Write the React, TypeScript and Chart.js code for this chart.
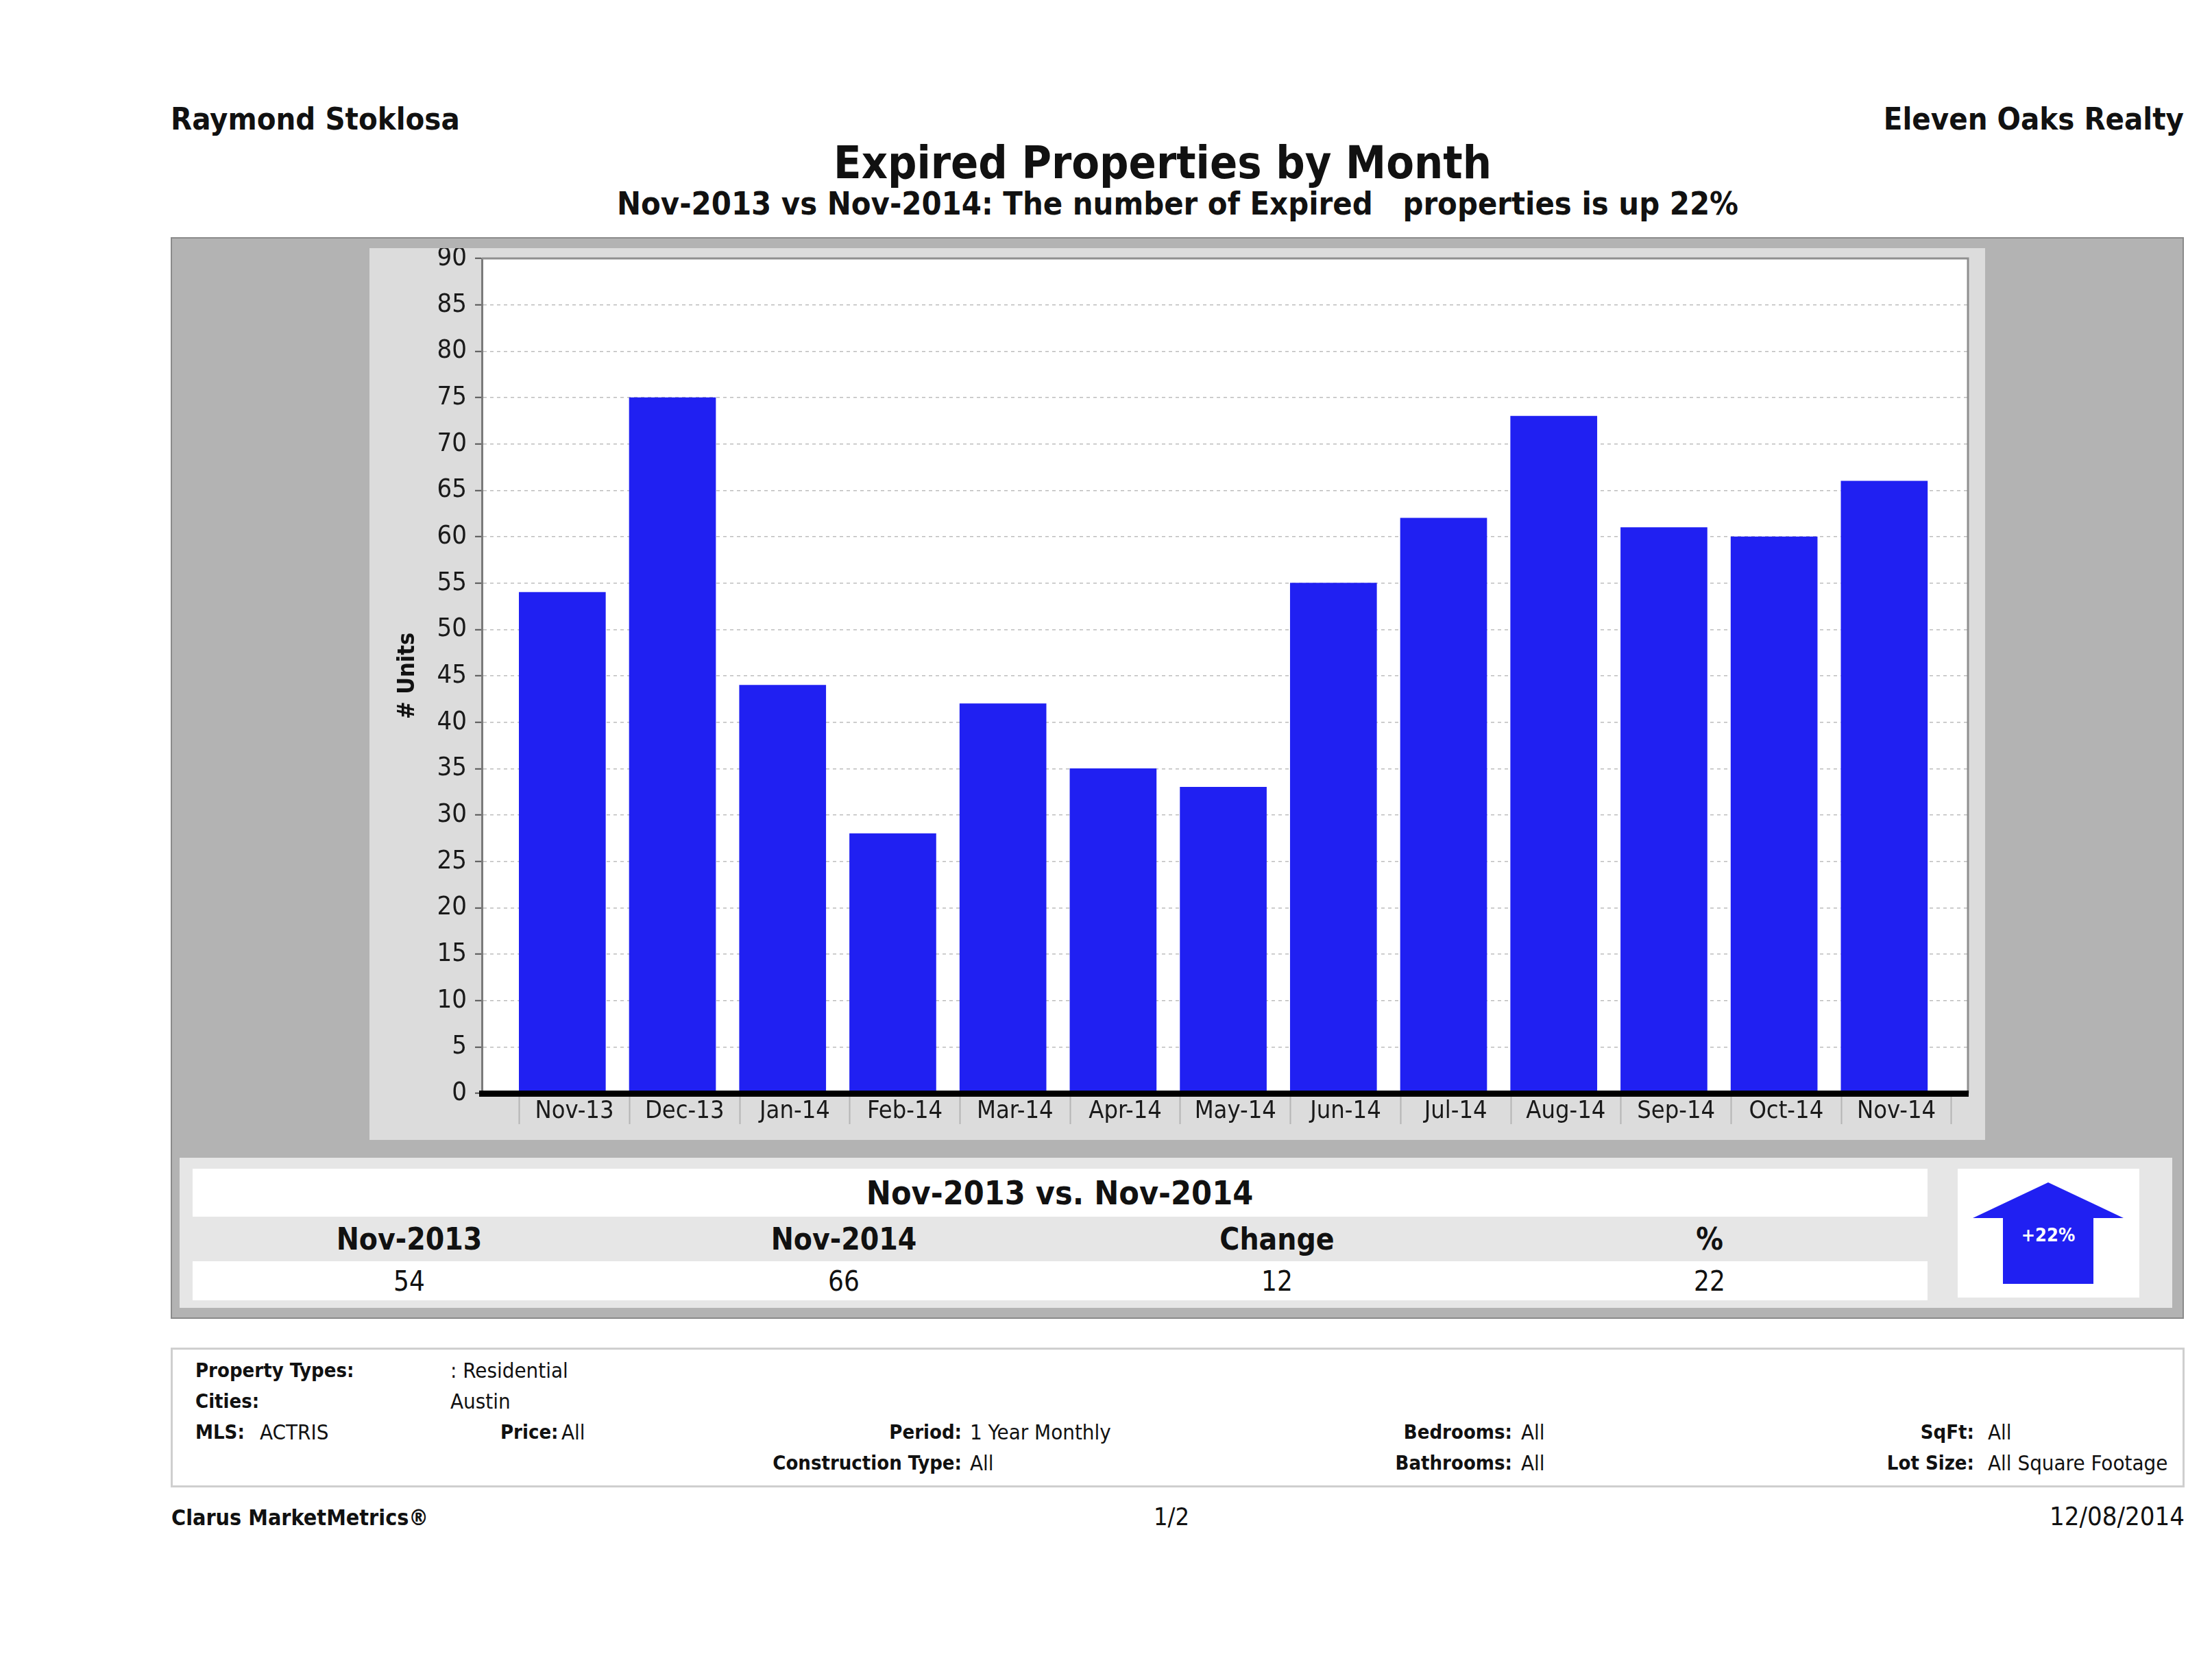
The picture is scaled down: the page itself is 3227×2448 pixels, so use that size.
import React, { useEffect, useRef } from "react";
import { Chart, registerables } from "chart.js";

Chart.register(...registerables);

// ---------- data ----------
const months = ["Nov-13", "Dec-13", "Jan-14", "Feb-14", "Mar-14", "Apr-14", "May-14", "Jun-14", "Jul-14", "Aug-14", "Sep-14", "Oct-14", "Nov-14"];
const expired = [54, 75, 44, 28, 42, 35, 33, 55, 62, 73, 61, 60, 66];
const yTicks = [0, 5, 10, 15, 20, 25, 30, 35, 40, 45, 50, 55, 60, 65, 70, 75, 80, 85, 90];
const compareHeaders = ["Nov-2013", "Nov-2014", "Change", "%"];
const compareValues = ["54", "66", "12", "22"];

const FF = "'DejaVu Sans Condensed', 'DejaVu Sans', sans-serif";

type TProps = { x: number; y: number; size: number; bold?: boolean; align?: "left" | "center" | "right"; color?: string; children: React.ReactNode };
function T({ x, y, size, bold, align = "left", color = "#111", children }: TProps) {
  const top = y - 0.846 * size;
  const transform = align === "center" ? "translateX(-50%)" : align === "right" ? "translateX(-100%)" : undefined;
  return (
    <div style={{ position: "absolute", left: x, top, fontSize: size, lineHeight: 1, fontWeight: bold ? 700 : 400, fontFamily: FF, color, whiteSpace: "pre", transform }}>
      {children}
    </div>
  );
}

function Box({ x, y, w, h, bg, border }: { x: number; y: number; w: number; h: number; bg: string; border?: string }) {
  return <div style={{ position: "absolute", left: x, top: y, width: w, height: h, background: bg, border, boxSizing: "border-box" }} />;
}

const BAR_OFFSET_LABEL = 0.11;
const BAR_OFFSET_SEP = -0.39;

function isLabelTick(v: number) {
  const k = Math.round(v - BAR_OFFSET_LABEL);
  return Math.abs(v - BAR_OFFSET_LABEL - k) < 1e-6 && k >= 0 && k < months.length;
}

function ExpiredChart() {
  const ref = useRef<HTMLCanvasElement | null>(null);
  useEffect(() => {
    if (!ref.current) return;
    const plotFrame = {
      id: "plotFrame",
      beforeDraw(chart: any) {
        const { ctx, chartArea: a } = chart;
        ctx.save();
        ctx.fillStyle = "#ffffff";
        ctx.fillRect(a.left, a.top, a.right - a.left, a.bottom - a.top);
        ctx.restore();
      },
      afterDatasetsDraw(chart: any) {
        const { ctx, chartArea: a } = chart;
        ctx.save();
        ctx.strokeStyle = "#8f8f8f";
        ctx.lineWidth = 3;
        ctx.beginPath();
        ctx.moveTo(a.left, a.top);
        ctx.lineTo(a.right, a.top);
        ctx.lineTo(a.right, a.bottom);
        ctx.stroke();
        ctx.restore();
      },
    };
    const chart = new Chart(ref.current, {
      type: "bar",
      data: {
        datasets: [
          {
            data: expired.map((v, i) => ({ x: i, y: v })),
            backgroundColor: "#2020f2",
            borderWidth: 0,
            barThickness: 126,
          } as any,
        ],
      },
      options: {
        responsive: false,
        animation: false,
        devicePixelRatio: 1,
        layout: { padding: { left: 0, top: 15, right: 25, bottom: 0 } },
        plugins: { legend: { display: false }, tooltip: { enabled: false }, title: { display: false } },
        scales: {
          x: {
            type: "linear",
            min: -0.73,
            max: 12.76,
            offset: false,
            afterBuildTicks: (scale: any) => {
              const t: { value: number }[] = [];
              for (let i = 0; i <= months.length; i++) t.push({ value: i + BAR_OFFSET_SEP });
              for (let i = 0; i < months.length; i++) t.push({ value: i + BAR_OFFSET_LABEL });
              t.sort((p, q) => p.value - q.value);
              scale.ticks = t;
            },
            afterFit: (scale: any) => {
              scale.height = 68;
              scale.paddingLeft = 0;
              scale.paddingRight = 0;
            },
            grid: {
              offset: false,
              drawOnChartArea: false,
              drawTicks: true,
              tickLength: 45,
              tickWidth: 2,
              tickColor: (ctx: any) => (ctx.tick && isLabelTick(ctx.tick.value) ? "rgba(0,0,0,0)" : "#b5b5b5"),
            },
            border: { display: true, color: "#000000", width: 9, z: 1 },
            ticks: {
              autoSkip: false,
              maxRotation: 0,
              minRotation: 0,
              padding: -40,
              color: "#1a1a1a",
              font: { family: FF, size: 36 },
              callback: (value: any) => {
                const v = Number(value);
                return isLabelTick(v) ? months[Math.round(v - BAR_OFFSET_LABEL)] : "";
              },
            },
          },
          y: {
            type: "linear",
            min: 0,
            max: 90,
            afterBuildTicks: (scale: any) => {
              scale.ticks = yTicks.map((v) => ({ value: v }));
            },
            afterFit: (scale: any) => {
              scale.width = 164;
              scale.paddingTop = 0;
              scale.paddingBottom = 0;
            },
            grid: {
              color: "#bdbdbd",
              lineWidth: 1.5,
              tickLength: 10,
              tickColor: "#555555",
              tickWidth: 2,
              tickBorderDash: [],
            },
            border: { display: true, color: "#7a7a7a", width: 3, dash: [5, 5] },
            ticks: {
              padding: 12,
              color: "#1a1a1a",
              font: { family: FF, size: 38 },
            },
            title: {
              display: true,
              text: "# Units",
              color: "#111",
              font: { family: FF, size: 34, weight: "bold" },
              padding: { top: 36, bottom: 0 },
            },
          },
        },
      } as any,
      plugins: [plotFrame],
    });
    return () => chart.destroy();
  }, []);
  return (
    <canvas
      ref={ref}
      width={2357}
      height={1301}
      style={{ position: "absolute", left: 539, top: 362, width: 2357, height: 1301, background: "#dcdcdc" }}
    />
  );
}

export default function App() {
  useEffect(() => {
    document.body.style.margin = "0";
    document.body.style.overflow = "hidden";
  }, []);
  const colX = [597, 1231, 1863, 2494];
  return (
    <div style={{ position: "absolute", left: 0, top: 0, width: 3227, height: 2448, background: "#ffffff", overflow: "hidden" }}>
      {/* header */}
      <T x={249} y={189} size={45} bold>Raymond Stoklosa</T>
      <T x={3186} y={189} size={45} bold align="right">Eleven Oaks Realty</T>
      <T x={1696} y={261} size={66} bold align="center">Expired Properties by Month</T>
      <T x={1718} y={313} size={46.6} bold align="center">{"Nov-2013 vs Nov-2014: The number of Expired   properties is up 22%"}</T>

      {/* main panel */}
      <Box x={249} y={346} w={2937} h={1578} bg="#b3b3b3" border="2px solid #8a8a8a" />
      <ExpiredChart />

      {/* comparison table */}
      <Box x={262} y={1689} w={2907} h={219} bg="#e6e6e6" />
      <Box x={281} y={1705} w={2531} h={70} bg="#ffffff" />
      <Box x={281} y={1840} w={2531} h={57} bg="#ffffff" />
      <T x={1546} y={1757} size={48} bold align="center">Nov-2013 vs. Nov-2014</T>
      {compareHeaders.map((h, i) => (
        <T key={"h" + i} x={colX[i]} y={1823} size={44} bold align="center">{h}</T>
      ))}
      {compareValues.map((v, i) => (
        <T key={"v" + i} x={colX[i]} y={1883} size={40} align="center">{v}</T>
      ))}
      <div style={{ position: "absolute", left: 2856, top: 1705, width: 265, height: 188, background: "#ffffff" }}>
        <svg width={265} height={188} style={{ position: "absolute", left: 0, top: 0 }}>
          <polygon points="132,20 22,72 66,72 66,168 198,168 198,72 242,72" fill="#2020f2" />
        </svg>
      </div>
      <T x={2988} y={1811} size={27} bold align="center" color="#ffffff">+22%</T>

      {/* info box */}
      <Box x={249} y={1966} w={2938} h={204} bg="#ffffff" border="3px solid #cfcfcf" />
      <T x={285} y={2010} size={29} bold>Property Types:</T>
      <T x={657} y={2010} size={31}>: Residential</T>
      <T x={285} y={2055} size={29} bold>Cities:</T>
      <T x={657} y={2055} size={31}>Austin</T>
      <T x={285} y={2100} size={29} bold>MLS:</T>
      <T x={379} y={2100} size={31}>ACTRIS</T>
      <T x={730} y={2100} size={29} bold>Price:</T>
      <T x={819} y={2100} size={31}>All</T>
      <T x={1403} y={2100} size={29} bold align="right">Period:</T>
      <T x={1415} y={2100} size={31}>1 Year Monthly</T>
      <T x={1403} y={2145} size={29} bold align="right">Construction Type:</T>
      <T x={1415} y={2145} size={31}>All</T>
      <T x={2206} y={2100} size={29} bold align="right">Bedrooms:</T>
      <T x={2219} y={2100} size={31}>All</T>
      <T x={2206} y={2145} size={29} bold align="right">Bathrooms:</T>
      <T x={2219} y={2145} size={31}>All</T>
      <T x={2880} y={2100} size={29} bold align="right">SqFt:</T>
      <T x={2900} y={2100} size={31}>All</T>
      <T x={2880} y={2145} size={29} bold align="right">Lot Size:</T>
      <T x={2900} y={2145} size={31}>All Square Footage</T>

      {/* footer */}
      <T x={250} y={2225} size={32} bold>Clarus MarketMetrics®</T>
      <T x={1709} y={2225} size={36} align="center">1/2</T>
      <T x={3187} y={2225} size={38} align="right">12/08/2014</T>
    </div>
  );
}
